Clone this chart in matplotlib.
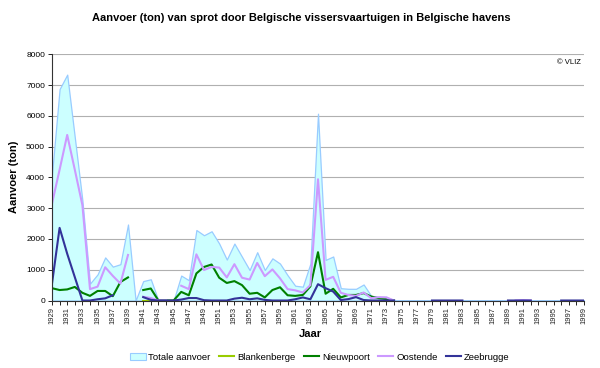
import matplotlib
matplotlib.use("Agg")
import matplotlib.pyplot as plt
import numpy as np
from matplotlib.patches import Patch
from matplotlib.lines import Line2D

plt.rcParams['font.family'] = ['Liberation Sans', 'DejaVu Sans']

years = list(range(1929, 2000))
N = None

totale = [4100, 6870, 7340, 5300, 3250, 550, 850, 1400, 1100, 1180,
          2470, 0, 630, 690, 0, 0, 0, 810, 660, 2290,
          2120, 2250, 1850, 1330, 1850, 1420, 990, 1570, 990, 1370,
          1200, 820, 480, 450, 1200, 6070, 1320, 1430, 400, 380,
          380, 520, 150, 110, 120, 0, 0, 0, 0, 0,
          0, 0, 0, 0, 0, 0, 0, 0, 0, 0,
          0, 15, 0, 0, 0, 0, 0, 0, 0, 0, 0]

blankenberge = [N]*12 + [0, 0, 0, 0, 0] + [N]*54

nieuwpoort = [400, 340, 360, 440, 250, 150, 310, 310, 140, 600,
              750, N, 340, 390, 0, 0, 0, 280, 170, 880,
              1090, 1170, 740, 570, 630, 500, 220, 250, 100, 340,
              430, 170, 150, 180, 460, 1570, 220, 380, 100, 180,
              180, 240, 130, 75, 45, 0] + [N]*25

oostende = [3150, 4250, 5380, 4250, 3100, 370, 450, 1080, 800, 550,
            1480, N, 120, 80, 0, 0, N, 480, 370, 1500,
            990, 1090, 1070, 750, 1180, 740, 680, 1220, 790, 1010,
            720, 370, 330, 260, 500, 3940, 670, 770, 250, 180,
            150, 260, 75, 110, 100, 0] + [N]*15 + [0, 15, 0] + [N]*7

zeebrugge = [550, 2360, 1520, 760, 0, 0, 40, 70, 170, N,
             N, N, 110, 20, 0, 0, 0, 30, 80, 80,
             10, 0, 0, 0, 60, 90, 40, 70, 20, 0,
             0, 0, 40, 100, 40, 530, 400, 290, 15, 45,
             110, 15, 0, 0, 0, 0, N, N, N, N,
             0, 0, 0, 0, 0, N, N, N, N, N,
             0, 0, 0, 0, N, N, N, 0, 0, 0, 0]

def arr(v):
    return np.array([np.nan if x is None else x for x in v], dtype=float)

fig = plt.figure(figsize=(6.0, 3.68), dpi=100)
ax = fig.add_axes([52/600, 1-300.5/368, 532/600, 246.2/368])

x = np.array(years)
ax.fill_between(x, 0, arr(totale), facecolor='#CCFFFF', edgecolor='#99CCFF',
                linewidth=0.9, zorder=2)
ax.plot(x, arr(blankenberge), color='#99CC00', lw=1.5, zorder=3)
ax.plot(x, arr(nieuwpoort), color='#008000', lw=1.5, zorder=4)
ax.plot(x, arr(oostende), color='#CC99FF', lw=1.5, zorder=5)
ax.plot(x, arr(zeebrugge), color='#333399', lw=1.5, zorder=6)

ax.set_xlim(1929, 1999)
ax.set_ylim(0, 8000)
ax.set_yticks(range(0, 8001, 1000))
ax.set_xticks(years)
ax.set_xticklabels([str(y) if (y - 1929) % 2 == 0 else '' for y in years],
                   rotation=90, fontsize=5.5, color='#222222')
ax.tick_params(axis='y', labelsize=6, length=3, width=0.6, pad=2)
ax.tick_params(axis='x', length=3, width=0.6, pad=2)
ax.grid(axis='y', color='#B0B0B0', lw=0.8, zorder=1)
ax.set_axisbelow(True)
for s in ['top', 'right']:
    ax.spines[s].set_visible(False)
for s in ['left', 'bottom']:
    ax.spines[s].set_linewidth(0.8)
    ax.spines[s].set_color('#333333')
    ax.spines[s].set_zorder(7)

fig.text(301/600, 1-18/368, 'Aanvoer (ton) van sprot door Belgische vissersvaartuigen in Belgische havens',
         ha='center', va='center', fontsize=8, fontweight='bold')
fig.text(14/600, 1-177/368, 'Aanvoer (ton)', rotation=90, ha='center', va='center',
         fontsize=8, fontweight='bold')
fig.text(310/600, 1-334/368, 'Jaar', ha='center', va='center', fontsize=8, fontweight='bold')
ax.text(0.995, 0.965, '© VLIZ', transform=ax.transAxes, ha='right', va='center', fontsize=5.5)

handles = [Patch(facecolor='#CCFFFF', edgecolor='#99CCFF', lw=0.8),
           Line2D([], [], color='#99CC00', lw=1.5),
           Line2D([], [], color='#008000', lw=1.5),
           Line2D([], [], color='#CC99FF', lw=1.5),
           Line2D([], [], color='#333399', lw=1.5)]
labels = ['Totale aanvoer', 'Blankenberge', 'Nieuwpoort', 'Oostende', 'Zeebrugge']
fig.legend(handles, labels, loc='center', bbox_to_anchor=(320/600, 1-357/368), ncol=5,
           frameon=False, fontsize=6.8, handlelength=1.6, handleheight=0.7,
           handletextpad=0.3, columnspacing=0.9, borderaxespad=0)

fig.savefig('out.png', dpi=100)
